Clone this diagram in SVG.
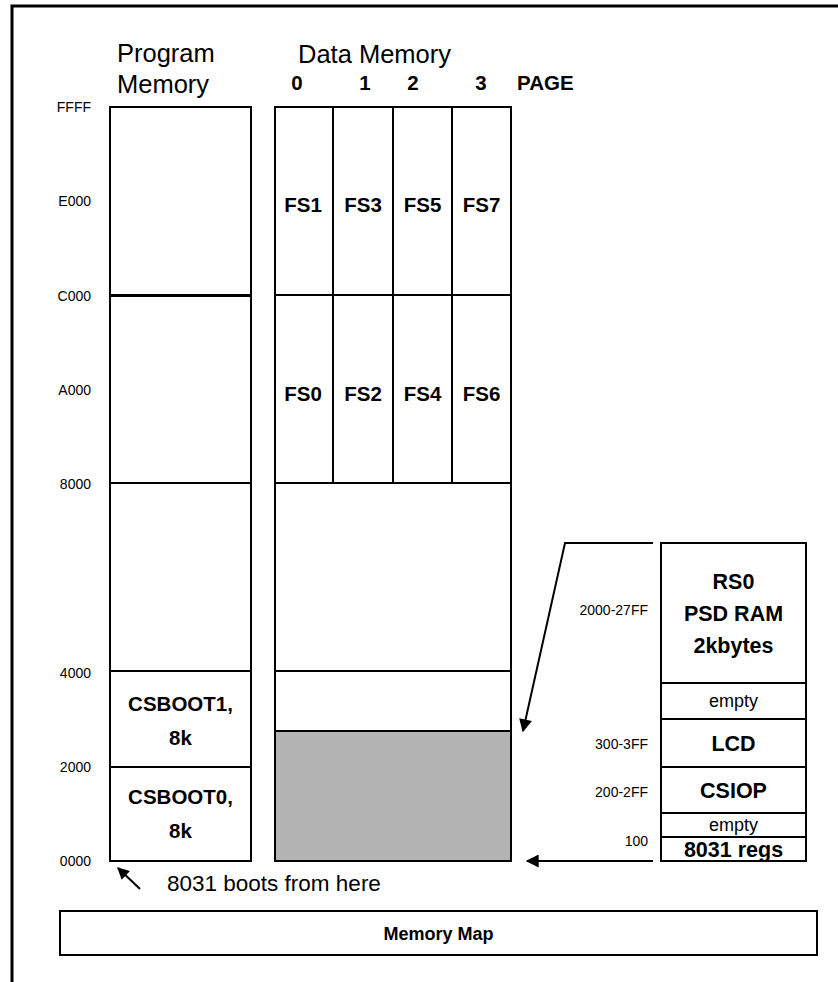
<svg xmlns="http://www.w3.org/2000/svg" width="838" height="982" viewBox="0 0 838 982">
<style>
.box{fill:#fff;stroke:#000;stroke-width:2}
.ln{stroke:#000;stroke-width:2;fill:none}
.hdr{font-family:"Liberation Sans",Arial,sans-serif;font-size:25.5px;fill:#000}
.pg{font-family:"Liberation Sans",Arial,sans-serif;font-size:20.5px;font-weight:bold;fill:#000}
.addr{font-family:"Liberation Sans",Arial,sans-serif;font-size:14px;fill:#000;text-anchor:end}
.lbl{font-family:"Liberation Sans",Arial,sans-serif;font-size:20.5px;font-weight:bold;fill:#000;text-anchor:middle}
.rl{font-family:"Liberation Sans",Arial,sans-serif;font-size:21.5px;font-weight:bold;fill:#000;text-anchor:middle}
.em{font-family:"Liberation Sans",Arial,sans-serif;font-size:18px;fill:#000;text-anchor:middle}
.note{font-family:"Liberation Sans",Arial,sans-serif;font-size:22.5px;fill:#000}
.cap{font-family:"Liberation Sans",Arial,sans-serif;font-size:18px;font-weight:bold;fill:#000;text-anchor:middle}
</style>
<defs>
<marker id="ah" viewBox="0 0 10 10" refX="9" refY="5" markerWidth="20" markerHeight="13" markerUnits="userSpaceOnUse" orient="auto">
<path d="M0,0 L10,5 L0,10 z" fill="#000"/>
</marker>
<marker id="ah2" viewBox="0 0 10 10" refX="9" refY="5" markerWidth="17" markerHeight="12" markerUnits="userSpaceOnUse" orient="auto">
<path d="M0,0 L10,5 L0,10 z" fill="#000"/>
</marker>
</defs>
<rect width="838" height="982" fill="#fff"/>
<g id="frame">
<path d="M12,982 L12,6 L838,6" fill="none" stroke="#000" stroke-width="3"/>
</g>
<g id="headers">
<text class="hdr" x="117" y="62">Program</text>
<text class="hdr" x="117" y="93">Memory</text>
<text class="hdr" x="298" y="63">Data Memory</text>
<text class="pg" x="297" y="90" text-anchor="middle">0</text>
<text class="pg" x="365" y="90" text-anchor="middle">1</text>
<text class="pg" x="413" y="90" text-anchor="middle">2</text>
<text class="pg" x="481" y="90" text-anchor="middle">3</text>
<text class="pg" x="517" y="90">PAGE</text>
</g>
<g id="addresses">
<text class="addr" x="91" y="112">FFFF</text>
<text class="addr" x="91" y="206">E000</text>
<text class="addr" x="91" y="301">C000</text>
<text class="addr" x="91" y="395">A000</text>
<text class="addr" x="91" y="489">8000</text>
<text class="addr" x="91" y="678">4000</text>
<text class="addr" x="91" y="772">2000</text>
<text class="addr" x="91" y="866">0000</text>
</g>
<g id="program-memory">
<rect class="box" x="110" y="107" width="141" height="754"/>
<line x1="110" y1="295.5" x2="251" y2="295.5" stroke="#000" stroke-width="3"/>
<line class="ln" x1="110" y1="483" x2="251" y2="483"/>
<line class="ln" x1="110" y1="671" x2="251" y2="671"/>
<line class="ln" x1="110" y1="767" x2="251" y2="767"/>
</g>
<g id="csboot1">
<text class="lbl" x="180.5" y="711">CSBOOT1,</text>
<text class="lbl" x="180.5" y="745">8k</text>
</g>
<g id="csboot0">
<text class="lbl" x="180.5" y="804">CSBOOT0,</text>
<text class="lbl" x="180.5" y="838">8k</text>
</g>
<g id="data-memory">
<rect class="box" x="275" y="107" width="236" height="754"/>
<rect x="275" y="731" width="236" height="130" fill="#b3b3b3" stroke="#000" stroke-width="2"/>
<line class="ln" x1="333" y1="107" x2="333" y2="483"/>
<line class="ln" x1="393" y1="107" x2="393" y2="483"/>
<line class="ln" x1="452" y1="107" x2="452" y2="483"/>
<line class="ln" x1="275" y1="295" x2="511" y2="295"/>
<line class="ln" x1="275" y1="483" x2="511" y2="483"/>
<line class="ln" x1="275" y1="671" x2="511" y2="671"/>
</g>
<g id="fs-pages">
<text class="lbl" x="303" y="212">FS1</text>
<text class="lbl" x="363" y="212">FS3</text>
<text class="lbl" x="422.5" y="212">FS5</text>
<text class="lbl" x="481.5" y="212">FS7</text>
<text class="lbl" x="303" y="401">FS0</text>
<text class="lbl" x="363" y="401">FS2</text>
<text class="lbl" x="422.5" y="401">FS4</text>
<text class="lbl" x="481.5" y="401">FS6</text>
</g>
<g id="detail-panel">
<rect class="box" x="661" y="543" width="145" height="318"/>
<line class="ln" x1="661" y1="683" x2="806" y2="683"/>
<line class="ln" x1="661" y1="719" x2="806" y2="719"/>
<line class="ln" x1="661" y1="767" x2="806" y2="767"/>
<line class="ln" x1="661" y1="813" x2="806" y2="813"/>
<line class="ln" x1="661" y1="837" x2="806" y2="837"/>
</g>
<g id="rs0">
<text class="rl" x="733.5" y="589">RS0</text>
<text class="rl" x="733.5" y="621">PSD RAM</text>
<text class="rl" x="733.5" y="653">2kbytes</text>
<text class="addr" x="648" y="615">2000-27FF</text>
</g>
<g id="empty1"><text class="em" x="733.5" y="707">empty</text></g>
<g id="lcd">
<text class="rl" x="733.5" y="751">LCD</text>
<text class="addr" x="648" y="749">300-3FF</text>
</g>
<g id="csiop">
<text class="rl" x="733.5" y="798">CSIOP</text>
<text class="addr" x="648" y="797">200-2FF</text>
</g>
<g id="empty2"><text class="em" x="733.5" y="831">empty</text></g>
<g id="regs">
<text class="rl" x="733.5" y="857">8031 regs</text>
<text class="addr" x="648" y="846">100</text>
</g>
<g id="connectors">
<path class="ln" d="M653,543 L565,543 L523,731" marker-end="url(#ah)"/>
<path class="ln" d="M653,861 L527,861" marker-end="url(#ah)"/>
<path class="ln" d="M140,889 L118,868" marker-end="url(#ah2)"/>
</g>
<g id="boots-note">
<text class="note" x="167" y="891">8031 boots from here</text>
</g>
<g id="caption">
<rect class="box" x="60" y="911" width="757" height="44"/>
<text class="cap" x="438.5" y="940">Memory Map</text>
</g>
</svg>
